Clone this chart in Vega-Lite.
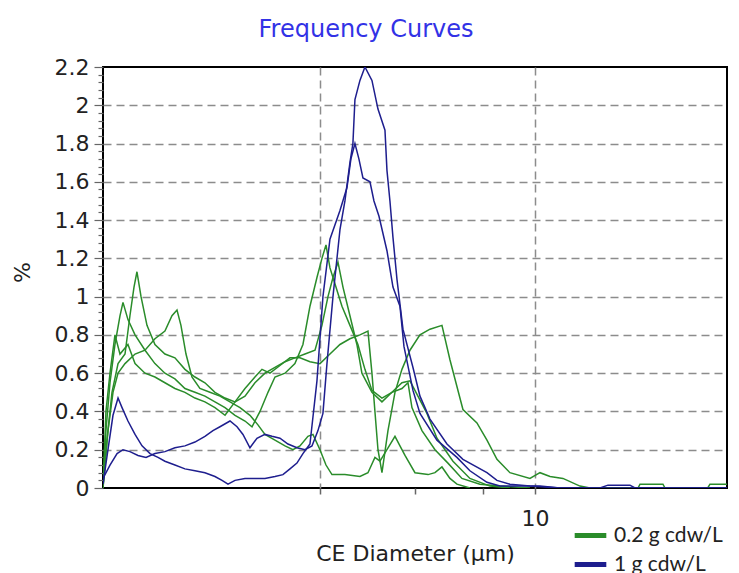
{
  "$schema": "https://vega.github.io/schema/vega-lite/v6.json",
  "width": 624,
  "height": 421,
  "autosize": "none",
  "padding": {"left": 103, "top": 67, "right": 12, "bottom": 85},
  "background": "white",
  "config": {"view": {"stroke": "black", "strokeWidth": 2}, "font": "DejaVu Sans"},
  "title": {"text": "Frequency Curves", "fontSize": 24, "font": "DejaVu Sans", "fontWeight": "normal", "color": "#3232e6", "anchor": "middle", "dx": -49, "frame": "group", "baseline": "alphabetic", "offset": -5},
  "data": {"values": [
    {"run":"G1","conc":"0.2 g cdw/L","diameter":1.585,"pct":0},
    {"run":"G1","conc":"0.2 g cdw/L","diameter":1.605,"pct":0.3},
    {"run":"G1","conc":"0.2 g cdw/L","diameter":1.633,"pct":0.55},
    {"run":"G1","conc":"0.2 g cdw/L","diameter":1.668,"pct":0.75},
    {"run":"G1","conc":"0.2 g cdw/L","diameter":1.704,"pct":0.9},
    {"run":"G1","conc":"0.2 g cdw/L","diameter":1.726,"pct":0.97},
    {"run":"G1","conc":"0.2 g cdw/L","diameter":1.763,"pct":0.88},
    {"run":"G1","conc":"0.2 g cdw/L","diameter":1.817,"pct":0.8},
    {"run":"G1","conc":"0.2 g cdw/L","diameter":1.896,"pct":0.72},
    {"run":"G1","conc":"0.2 g cdw/L","diameter":1.978,"pct":0.65},
    {"run":"G1","conc":"0.2 g cdw/L","diameter":2.064,"pct":0.6},
    {"run":"G1","conc":"0.2 g cdw/L","diameter":2.154,"pct":0.57},
    {"run":"G1","conc":"0.2 g cdw/L","diameter":2.248,"pct":0.52},
    {"run":"G1","conc":"0.2 g cdw/L","diameter":2.346,"pct":0.5},
    {"run":"G1","conc":"0.2 g cdw/L","diameter":2.448,"pct":0.48},
    {"run":"G1","conc":"0.2 g cdw/L","diameter":2.555,"pct":0.45},
    {"run":"G1","conc":"0.2 g cdw/L","diameter":2.667,"pct":0.42},
    {"run":"G1","conc":"0.2 g cdw/L","diameter":2.783,"pct":0.38},
    {"run":"G1","conc":"0.2 g cdw/L","diameter":2.904,"pct":0.35},
    {"run":"G1","conc":"0.2 g cdw/L","diameter":2.992,"pct":0.32},
    {"run":"G1","conc":"0.2 g cdw/L","diameter":3.096,"pct":0.4},
    {"run":"G1","conc":"0.2 g cdw/L","diameter":3.203,"pct":0.5},
    {"run":"G1","conc":"0.2 g cdw/L","diameter":3.3,"pct":0.58},
    {"run":"G1","conc":"0.2 g cdw/L","diameter":3.444,"pct":0.6},
    {"run":"G1","conc":"0.2 g cdw/L","diameter":3.593,"pct":0.65},
    {"run":"G1","conc":"0.2 g cdw/L","diameter":3.718,"pct":0.75},
    {"run":"G1","conc":"0.2 g cdw/L","diameter":3.831,"pct":0.95},
    {"run":"G1","conc":"0.2 g cdw/L","diameter":3.947,"pct":1.1},
    {"run":"G1","conc":"0.2 g cdw/L","diameter":4.032,"pct":1.2},
    {"run":"G1","conc":"0.2 g cdw/L","diameter":4.102,"pct":1.27},
    {"run":"G1","conc":"0.2 g cdw/L","diameter":4.172,"pct":1.15},
    {"run":"G1","conc":"0.2 g cdw/L","diameter":4.28,"pct":1.05},
    {"run":"G1","conc":"0.2 g cdw/L","diameter":4.391,"pct":0.95},
    {"run":"G1","conc":"0.2 g cdw/L","diameter":4.543,"pct":0.85},
    {"run":"G1","conc":"0.2 g cdw/L","diameter":4.7,"pct":0.75},
    {"run":"G1","conc":"0.2 g cdw/L","diameter":4.843,"pct":0.62},
    {"run":"G1","conc":"0.2 g cdw/L","diameter":4.99,"pct":0.51},
    {"run":"G1","conc":"0.2 g cdw/L","diameter":5.208,"pct":0.47},
    {"run":"G1","conc":"0.2 g cdw/L","diameter":5.434,"pct":0.5},
    {"run":"G1","conc":"0.2 g cdw/L","diameter":5.671,"pct":0.52},
    {"run":"G1","conc":"0.2 g cdw/L","diameter":5.819,"pct":0.55},
    {"run":"G1","conc":"0.2 g cdw/L","diameter":5.918,"pct":0.42},
    {"run":"G1","conc":"0.2 g cdw/L","diameter":6.176,"pct":0.3},
    {"run":"G1","conc":"0.2 g cdw/L","diameter":6.529,"pct":0.2},
    {"run":"G1","conc":"0.2 g cdw/L","diameter":6.9,"pct":0.13},
    {"run":"G1","conc":"0.2 g cdw/L","diameter":7.324,"pct":0.05},
    {"run":"G1","conc":"0.2 g cdw/L","diameter":7.908,"pct":0.02},
    {"run":"G1","conc":"0.2 g cdw/L","diameter":8.613,"pct":0.01},
    {"run":"G1","conc":"0.2 g cdw/L","diameter":9.789,"pct":0},
    {"run":"G2","conc":"0.2 g cdw/L","diameter":1.585,"pct":0},
    {"run":"G2","conc":"0.2 g cdw/L","diameter":1.612,"pct":0.25},
    {"run":"G2","conc":"0.2 g cdw/L","diameter":1.647,"pct":0.5},
    {"run":"G2","conc":"0.2 g cdw/L","diameter":1.69,"pct":0.65},
    {"run":"G2","conc":"0.2 g cdw/L","diameter":1.741,"pct":0.7},
    {"run":"G2","conc":"0.2 g cdw/L","diameter":1.778,"pct":0.9},
    {"run":"G2","conc":"0.2 g cdw/L","diameter":1.809,"pct":1.05},
    {"run":"G2","conc":"0.2 g cdw/L","diameter":1.832,"pct":1.13},
    {"run":"G2","conc":"0.2 g cdw/L","diameter":1.864,"pct":1.0},
    {"run":"G2","conc":"0.2 g cdw/L","diameter":1.912,"pct":0.85},
    {"run":"G2","conc":"0.2 g cdw/L","diameter":1.978,"pct":0.75},
    {"run":"G2","conc":"0.2 g cdw/L","diameter":2.064,"pct":0.7},
    {"run":"G2","conc":"0.2 g cdw/L","diameter":2.154,"pct":0.68},
    {"run":"G2","conc":"0.2 g cdw/L","diameter":2.248,"pct":0.62},
    {"run":"G2","conc":"0.2 g cdw/L","diameter":2.346,"pct":0.58},
    {"run":"G2","conc":"0.2 g cdw/L","diameter":2.448,"pct":0.55},
    {"run":"G2","conc":"0.2 g cdw/L","diameter":2.555,"pct":0.5},
    {"run":"G2","conc":"0.2 g cdw/L","diameter":2.667,"pct":0.47},
    {"run":"G2","conc":"0.2 g cdw/L","diameter":2.783,"pct":0.45},
    {"run":"G2","conc":"0.2 g cdw/L","diameter":2.904,"pct":0.48},
    {"run":"G2","conc":"0.2 g cdw/L","diameter":3.03,"pct":0.55},
    {"run":"G2","conc":"0.2 g cdw/L","diameter":3.162,"pct":0.6},
    {"run":"G2","conc":"0.2 g cdw/L","diameter":3.3,"pct":0.63},
    {"run":"G2","conc":"0.2 g cdw/L","diameter":3.444,"pct":0.66},
    {"run":"G2","conc":"0.2 g cdw/L","diameter":3.593,"pct":0.68},
    {"run":"G2","conc":"0.2 g cdw/L","diameter":3.75,"pct":0.7},
    {"run":"G2","conc":"0.2 g cdw/L","diameter":3.914,"pct":0.72},
    {"run":"G2","conc":"0.2 g cdw/L","diameter":4.032,"pct":0.85},
    {"run":"G2","conc":"0.2 g cdw/L","diameter":4.137,"pct":1.0},
    {"run":"G2","conc":"0.2 g cdw/L","diameter":4.226,"pct":1.1},
    {"run":"G2","conc":"0.2 g cdw/L","diameter":4.317,"pct":1.18},
    {"run":"G2","conc":"0.2 g cdw/L","diameter":4.41,"pct":1.05},
    {"run":"G2","conc":"0.2 g cdw/L","diameter":4.543,"pct":0.9},
    {"run":"G2","conc":"0.2 g cdw/L","diameter":4.68,"pct":0.75},
    {"run":"G2","conc":"0.2 g cdw/L","diameter":4.781,"pct":0.6},
    {"run":"G2","conc":"0.2 g cdw/L","diameter":4.99,"pct":0.5},
    {"run":"G2","conc":"0.2 g cdw/L","diameter":5.208,"pct":0.45},
    {"run":"G2","conc":"0.2 g cdw/L","diameter":5.434,"pct":0.5},
    {"run":"G2","conc":"0.2 g cdw/L","diameter":5.671,"pct":0.55},
    {"run":"G2","conc":"0.2 g cdw/L","diameter":5.868,"pct":0.56},
    {"run":"G2","conc":"0.2 g cdw/L","diameter":6.309,"pct":0.39},
    {"run":"G2","conc":"0.2 g cdw/L","diameter":6.584,"pct":0.26},
    {"run":"G2","conc":"0.2 g cdw/L","diameter":7.049,"pct":0.14},
    {"run":"G2","conc":"0.2 g cdw/L","diameter":7.578,"pct":0.05},
    {"run":"G2","conc":"0.2 g cdw/L","diameter":8.254,"pct":0.01},
    {"run":"G2","conc":"0.2 g cdw/L","diameter":8.987,"pct":0},
    {"run":"G3","conc":"0.2 g cdw/L","diameter":1.585,"pct":0},
    {"run":"G3","conc":"0.2 g cdw/L","diameter":1.619,"pct":0.3},
    {"run":"G3","conc":"0.2 g cdw/L","diameter":1.654,"pct":0.5},
    {"run":"G3","conc":"0.2 g cdw/L","diameter":1.69,"pct":0.6},
    {"run":"G3","conc":"0.2 g cdw/L","diameter":1.741,"pct":0.65},
    {"run":"G3","conc":"0.2 g cdw/L","diameter":1.817,"pct":0.7},
    {"run":"G3","conc":"0.2 g cdw/L","diameter":1.896,"pct":0.72},
    {"run":"G3","conc":"0.2 g cdw/L","diameter":1.978,"pct":0.78},
    {"run":"G3","conc":"0.2 g cdw/L","diameter":2.064,"pct":0.82},
    {"run":"G3","conc":"0.2 g cdw/L","diameter":2.127,"pct":0.9},
    {"run":"G3","conc":"0.2 g cdw/L","diameter":2.173,"pct":0.93},
    {"run":"G3","conc":"0.2 g cdw/L","diameter":2.21,"pct":0.85},
    {"run":"G3","conc":"0.2 g cdw/L","diameter":2.258,"pct":0.7},
    {"run":"G3","conc":"0.2 g cdw/L","diameter":2.316,"pct":0.58},
    {"run":"G3","conc":"0.2 g cdw/L","diameter":2.396,"pct":0.52},
    {"run":"G3","conc":"0.2 g cdw/L","diameter":2.501,"pct":0.5},
    {"run":"G3","conc":"0.2 g cdw/L","diameter":2.61,"pct":0.48},
    {"run":"G3","conc":"0.2 g cdw/L","diameter":2.724,"pct":0.45},
    {"run":"G3","conc":"0.2 g cdw/L","diameter":2.843,"pct":0.42},
    {"run":"G3","conc":"0.2 g cdw/L","diameter":2.966,"pct":0.38},
    {"run":"G3","conc":"0.2 g cdw/L","diameter":3.069,"pct":0.33},
    {"run":"G3","conc":"0.2 g cdw/L","diameter":3.162,"pct":0.28},
    {"run":"G3","conc":"0.2 g cdw/L","diameter":3.3,"pct":0.25},
    {"run":"G3","conc":"0.2 g cdw/L","diameter":3.444,"pct":0.22},
    {"run":"G3","conc":"0.2 g cdw/L","diameter":3.563,"pct":0.2},
    {"run":"G3","conc":"0.2 g cdw/L","diameter":3.671,"pct":0.22},
    {"run":"G3","conc":"0.2 g cdw/L","diameter":3.798,"pct":0.27},
    {"run":"G3","conc":"0.2 g cdw/L","diameter":3.88,"pct":0.28},
    {"run":"G3","conc":"0.2 g cdw/L","diameter":3.998,"pct":0.2},
    {"run":"G3","conc":"0.2 g cdw/L","diameter":4.102,"pct":0.12},
    {"run":"G3","conc":"0.2 g cdw/L","diameter":4.208,"pct":0.07},
    {"run":"G3","conc":"0.2 g cdw/L","diameter":4.447,"pct":0.07},
    {"run":"G3","conc":"0.2 g cdw/L","diameter":4.741,"pct":0.06},
    {"run":"G3","conc":"0.2 g cdw/L","diameter":4.906,"pct":0.08},
    {"run":"G3","conc":"0.2 g cdw/L","diameter":5.054,"pct":0.16},
    {"run":"G3","conc":"0.2 g cdw/L","diameter":5.164,"pct":0.14},
    {"run":"G3","conc":"0.2 g cdw/L","diameter":5.32,"pct":0.2},
    {"run":"G3","conc":"0.2 g cdw/L","diameter":5.505,"pct":0.27},
    {"run":"G3","conc":"0.2 g cdw/L","diameter":5.623,"pct":0.22},
    {"run":"G3","conc":"0.2 g cdw/L","diameter":5.745,"pct":0.17},
    {"run":"G3","conc":"0.2 g cdw/L","diameter":5.995,"pct":0.08},
    {"run":"G3","conc":"0.2 g cdw/L","diameter":6.339,"pct":0.07},
    {"run":"G3","conc":"0.2 g cdw/L","diameter":6.529,"pct":0.08},
    {"run":"G3","conc":"0.2 g cdw/L","diameter":6.726,"pct":0.11},
    {"run":"G3","conc":"0.2 g cdw/L","diameter":6.959,"pct":0.05},
    {"run":"G3","conc":"0.2 g cdw/L","diameter":7.17,"pct":0.02},
    {"run":"G3","conc":"0.2 g cdw/L","diameter":7.578,"pct":0},
    {"run":"G4","conc":"0.2 g cdw/L","diameter":1.585,"pct":0},
    {"run":"G4","conc":"0.2 g cdw/L","diameter":1.605,"pct":0.4},
    {"run":"G4","conc":"0.2 g cdw/L","diameter":1.633,"pct":0.6},
    {"run":"G4","conc":"0.2 g cdw/L","diameter":1.668,"pct":0.8},
    {"run":"G4","conc":"0.2 g cdw/L","diameter":1.704,"pct":0.7},
    {"run":"G4","conc":"0.2 g cdw/L","diameter":1.763,"pct":0.75},
    {"run":"G4","conc":"0.2 g cdw/L","diameter":1.817,"pct":0.65},
    {"run":"G4","conc":"0.2 g cdw/L","diameter":1.896,"pct":0.6},
    {"run":"G4","conc":"0.2 g cdw/L","diameter":1.978,"pct":0.58},
    {"run":"G4","conc":"0.2 g cdw/L","diameter":2.064,"pct":0.55},
    {"run":"G4","conc":"0.2 g cdw/L","diameter":2.154,"pct":0.52},
    {"run":"G4","conc":"0.2 g cdw/L","diameter":2.248,"pct":0.5},
    {"run":"G4","conc":"0.2 g cdw/L","diameter":2.346,"pct":0.47},
    {"run":"G4","conc":"0.2 g cdw/L","diameter":2.448,"pct":0.45},
    {"run":"G4","conc":"0.2 g cdw/L","diameter":2.555,"pct":0.42},
    {"run":"G4","conc":"0.2 g cdw/L","diameter":2.667,"pct":0.38},
    {"run":"G4","conc":"0.2 g cdw/L","diameter":2.783,"pct":0.45},
    {"run":"G4","conc":"0.2 g cdw/L","diameter":2.904,"pct":0.52},
    {"run":"G4","conc":"0.2 g cdw/L","diameter":3.03,"pct":0.58},
    {"run":"G4","conc":"0.2 g cdw/L","diameter":3.122,"pct":0.62},
    {"run":"G4","conc":"0.2 g cdw/L","diameter":3.23,"pct":0.6},
    {"run":"G4","conc":"0.2 g cdw/L","diameter":3.371,"pct":0.64},
    {"run":"G4","conc":"0.2 g cdw/L","diameter":3.518,"pct":0.68},
    {"run":"G4","conc":"0.2 g cdw/L","diameter":3.671,"pct":0.68},
    {"run":"G4","conc":"0.2 g cdw/L","diameter":3.831,"pct":0.66},
    {"run":"G4","conc":"0.2 g cdw/L","diameter":3.998,"pct":0.65},
    {"run":"G4","conc":"0.2 g cdw/L","diameter":4.172,"pct":0.7},
    {"run":"G4","conc":"0.2 g cdw/L","diameter":4.354,"pct":0.75},
    {"run":"G4","conc":"0.2 g cdw/L","diameter":4.543,"pct":0.78},
    {"run":"G4","conc":"0.2 g cdw/L","diameter":4.741,"pct":0.8},
    {"run":"G4","conc":"0.2 g cdw/L","diameter":4.906,"pct":0.82},
    {"run":"G4","conc":"0.2 g cdw/L","diameter":4.99,"pct":0.6},
    {"run":"G4","conc":"0.2 g cdw/L","diameter":5.054,"pct":0.4},
    {"run":"G4","conc":"0.2 g cdw/L","diameter":5.12,"pct":0.2},
    {"run":"G4","conc":"0.2 g cdw/L","diameter":5.208,"pct":0.08},
    {"run":"G4","conc":"0.2 g cdw/L","diameter":5.343,"pct":0.3},
    {"run":"G4","conc":"0.2 g cdw/L","diameter":5.505,"pct":0.5},
    {"run":"G4","conc":"0.2 g cdw/L","diameter":5.671,"pct":0.62},
    {"run":"G4","conc":"0.2 g cdw/L","diameter":5.868,"pct":0.72},
    {"run":"G4","conc":"0.2 g cdw/L","diameter":6.124,"pct":0.8},
    {"run":"G4","conc":"0.2 g cdw/L","diameter":6.391,"pct":0.83},
    {"run":"G4","conc":"0.2 g cdw/L","diameter":6.726,"pct":0.85},
    {"run":"G4","conc":"0.2 g cdw/L","diameter":6.959,"pct":0.67},
    {"run":"G4","conc":"0.2 g cdw/L","diameter":7.356,"pct":0.41},
    {"run":"G4","conc":"0.2 g cdw/L","diameter":7.808,"pct":0.34},
    {"run":"G4","conc":"0.2 g cdw/L","diameter":8.149,"pct":0.25},
    {"run":"G4","conc":"0.2 g cdw/L","diameter":8.504,"pct":0.15},
    {"run":"G4","conc":"0.2 g cdw/L","diameter":8.987,"pct":0.08},
    {"run":"G4","conc":"0.2 g cdw/L","diameter":9.789,"pct":0.05},
    {"run":"G4","conc":"0.2 g cdw/L","diameter":10.216,"pct":0.08},
    {"run":"G4","conc":"0.2 g cdw/L","diameter":10.664,"pct":0.06},
    {"run":"G4","conc":"0.2 g cdw/L","diameter":11.267,"pct":0.05},
    {"run":"G4","conc":"0.2 g cdw/L","diameter":12.115,"pct":0.01},
    {"run":"G4","conc":"0.2 g cdw/L","diameter":12.646,"pct":0},
    {"run":"G4","conc":"0.2 g cdw/L","diameter":15.52,"pct":0},
    {"run":"G4","conc":"0.2 g cdw/L","diameter":15.65,"pct":0.02},
    {"run":"G4","conc":"0.2 g cdw/L","diameter":17.26,"pct":0.02},
    {"run":"G4","conc":"0.2 g cdw/L","diameter":17.41,"pct":0},
    {"run":"G4","conc":"0.2 g cdw/L","diameter":20.89,"pct":0},
    {"run":"G4","conc":"0.2 g cdw/L","diameter":21.09,"pct":0.02},
    {"run":"G4","conc":"0.2 g cdw/L","diameter":22.68,"pct":0.02},
    {"run":"B1","conc":"1 g cdw/L","diameter":1.585,"pct":0.02},
    {"run":"B1","conc":"1 g cdw/L","diameter":1.619,"pct":0.2},
    {"run":"B1","conc":"1 g cdw/L","diameter":1.654,"pct":0.38},
    {"run":"B1","conc":"1 g cdw/L","diameter":1.69,"pct":0.47},
    {"run":"B1","conc":"1 g cdw/L","diameter":1.719,"pct":0.42},
    {"run":"B1","conc":"1 g cdw/L","diameter":1.763,"pct":0.35},
    {"run":"B1","conc":"1 g cdw/L","diameter":1.817,"pct":0.28},
    {"run":"B1","conc":"1 g cdw/L","diameter":1.872,"pct":0.22},
    {"run":"B1","conc":"1 g cdw/L","diameter":1.937,"pct":0.18},
    {"run":"B1","conc":"1 g cdw/L","diameter":2.004,"pct":0.16},
    {"run":"B1","conc":"1 g cdw/L","diameter":2.064,"pct":0.14},
    {"run":"B1","conc":"1 g cdw/L","diameter":2.154,"pct":0.12},
    {"run":"B1","conc":"1 g cdw/L","diameter":2.248,"pct":0.1},
    {"run":"B1","conc":"1 g cdw/L","diameter":2.346,"pct":0.09},
    {"run":"B1","conc":"1 g cdw/L","diameter":2.448,"pct":0.08},
    {"run":"B1","conc":"1 g cdw/L","diameter":2.555,"pct":0.06},
    {"run":"B1","conc":"1 g cdw/L","diameter":2.633,"pct":0.04},
    {"run":"B1","conc":"1 g cdw/L","diameter":2.701,"pct":0.02},
    {"run":"B1","conc":"1 g cdw/L","diameter":2.783,"pct":0.04},
    {"run":"B1","conc":"1 g cdw/L","diameter":2.904,"pct":0.05},
    {"run":"B1","conc":"1 g cdw/L","diameter":3.03,"pct":0.05},
    {"run":"B1","conc":"1 g cdw/L","diameter":3.162,"pct":0.05},
    {"run":"B1","conc":"1 g cdw/L","diameter":3.3,"pct":0.06},
    {"run":"B1","conc":"1 g cdw/L","diameter":3.414,"pct":0.07},
    {"run":"B1","conc":"1 g cdw/L","diameter":3.518,"pct":0.1},
    {"run":"B1","conc":"1 g cdw/L","diameter":3.624,"pct":0.13},
    {"run":"B1","conc":"1 g cdw/L","diameter":3.718,"pct":0.18},
    {"run":"B1","conc":"1 g cdw/L","diameter":3.831,"pct":0.23},
    {"run":"B1","conc":"1 g cdw/L","diameter":3.947,"pct":0.56},
    {"run":"B1","conc":"1 g cdw/L","diameter":4.049,"pct":1.0},
    {"run":"B1","conc":"1 g cdw/L","diameter":4.172,"pct":1.3},
    {"run":"B1","conc":"1 g cdw/L","diameter":4.354,"pct":1.45},
    {"run":"B1","conc":"1 g cdw/L","diameter":4.486,"pct":1.57},
    {"run":"B1","conc":"1 g cdw/L","diameter":4.562,"pct":1.72},
    {"run":"B1","conc":"1 g cdw/L","diameter":4.641,"pct":1.8},
    {"run":"B1","conc":"1 g cdw/L","diameter":4.72,"pct":1.72},
    {"run":"B1","conc":"1 g cdw/L","diameter":4.802,"pct":1.62},
    {"run":"B1","conc":"1 g cdw/L","diameter":4.948,"pct":1.6},
    {"run":"B1","conc":"1 g cdw/L","diameter":5.033,"pct":1.5},
    {"run":"B1","conc":"1 g cdw/L","diameter":5.142,"pct":1.42},
    {"run":"B1","conc":"1 g cdw/L","diameter":5.32,"pct":1.24},
    {"run":"B1","conc":"1 g cdw/L","diameter":5.458,"pct":1.05},
    {"run":"B1","conc":"1 g cdw/L","diameter":5.623,"pct":0.95},
    {"run":"B1","conc":"1 g cdw/L","diameter":5.72,"pct":0.74},
    {"run":"B1","conc":"1 g cdw/L","diameter":5.944,"pct":0.51},
    {"run":"B1","conc":"1 g cdw/L","diameter":6.124,"pct":0.39},
    {"run":"B1","conc":"1 g cdw/L","diameter":6.584,"pct":0.25},
    {"run":"B1","conc":"1 g cdw/L","diameter":7.17,"pct":0.16},
    {"run":"B1","conc":"1 g cdw/L","diameter":7.578,"pct":0.09},
    {"run":"B1","conc":"1 g cdw/L","diameter":8.149,"pct":0.03},
    {"run":"B1","conc":"1 g cdw/L","diameter":8.613,"pct":0.01},
    {"run":"B1","conc":"1 g cdw/L","diameter":9.381,"pct":0.01},
    {"run":"B1","conc":"1 g cdw/L","diameter":10.216,"pct":0.01},
    {"run":"B1","conc":"1 g cdw/L","diameter":11.124,"pct":0},
    {"run":"B1","conc":"1 g cdw/L","diameter":22.68,"pct":0},
    {"run":"B2","conc":"1 g cdw/L","diameter":1.585,"pct":0.05},
    {"run":"B2","conc":"1 g cdw/L","diameter":1.633,"pct":0.12},
    {"run":"B2","conc":"1 g cdw/L","diameter":1.683,"pct":0.18},
    {"run":"B2","conc":"1 g cdw/L","diameter":1.726,"pct":0.2},
    {"run":"B2","conc":"1 g cdw/L","diameter":1.778,"pct":0.19},
    {"run":"B2","conc":"1 g cdw/L","diameter":1.84,"pct":0.17},
    {"run":"B2","conc":"1 g cdw/L","diameter":1.904,"pct":0.16},
    {"run":"B2","conc":"1 g cdw/L","diameter":1.978,"pct":0.18},
    {"run":"B2","conc":"1 g cdw/L","diameter":2.064,"pct":0.19},
    {"run":"B2","conc":"1 g cdw/L","diameter":2.154,"pct":0.21},
    {"run":"B2","conc":"1 g cdw/L","diameter":2.248,"pct":0.22},
    {"run":"B2","conc":"1 g cdw/L","diameter":2.346,"pct":0.24},
    {"run":"B2","conc":"1 g cdw/L","diameter":2.448,"pct":0.27},
    {"run":"B2","conc":"1 g cdw/L","diameter":2.533,"pct":0.3},
    {"run":"B2","conc":"1 g cdw/L","diameter":2.61,"pct":0.32},
    {"run":"B2","conc":"1 g cdw/L","diameter":2.724,"pct":0.35},
    {"run":"B2","conc":"1 g cdw/L","diameter":2.807,"pct":0.32},
    {"run":"B2","conc":"1 g cdw/L","diameter":2.879,"pct":0.28},
    {"run":"B2","conc":"1 g cdw/L","diameter":2.966,"pct":0.21},
    {"run":"B2","conc":"1 g cdw/L","diameter":3.056,"pct":0.26},
    {"run":"B2","conc":"1 g cdw/L","diameter":3.162,"pct":0.28},
    {"run":"B2","conc":"1 g cdw/L","diameter":3.258,"pct":0.27},
    {"run":"B2","conc":"1 g cdw/L","diameter":3.371,"pct":0.26},
    {"run":"B2","conc":"1 g cdw/L","diameter":3.488,"pct":0.23},
    {"run":"B2","conc":"1 g cdw/L","diameter":3.624,"pct":0.21},
    {"run":"B2","conc":"1 g cdw/L","diameter":3.75,"pct":0.2},
    {"run":"B2","conc":"1 g cdw/L","diameter":3.864,"pct":0.22},
    {"run":"B2","conc":"1 g cdw/L","diameter":3.964,"pct":0.3},
    {"run":"B2","conc":"1 g cdw/L","diameter":4.049,"pct":0.39},
    {"run":"B2","conc":"1 g cdw/L","diameter":4.119,"pct":0.65},
    {"run":"B2","conc":"1 g cdw/L","diameter":4.226,"pct":1.0},
    {"run":"B2","conc":"1 g cdw/L","diameter":4.354,"pct":1.35},
    {"run":"B2","conc":"1 g cdw/L","diameter":4.447,"pct":1.5},
    {"run":"B2","conc":"1 g cdw/L","diameter":4.543,"pct":1.7},
    {"run":"B2","conc":"1 g cdw/L","diameter":4.601,"pct":1.8},
    {"run":"B2","conc":"1 g cdw/L","diameter":4.641,"pct":2.03},
    {"run":"B2","conc":"1 g cdw/L","diameter":4.741,"pct":2.13},
    {"run":"B2","conc":"1 g cdw/L","diameter":4.843,"pct":2.2},
    {"run":"B2","conc":"1 g cdw/L","diameter":4.99,"pct":2.13},
    {"run":"B2","conc":"1 g cdw/L","diameter":5.12,"pct":1.98},
    {"run":"B2","conc":"1 g cdw/L","diameter":5.275,"pct":1.87},
    {"run":"B2","conc":"1 g cdw/L","diameter":5.32,"pct":1.66},
    {"run":"B2","conc":"1 g cdw/L","diameter":5.388,"pct":1.5},
    {"run":"B2","conc":"1 g cdw/L","diameter":5.458,"pct":1.31},
    {"run":"B2","conc":"1 g cdw/L","diameter":5.552,"pct":1.09},
    {"run":"B2","conc":"1 g cdw/L","diameter":5.696,"pct":0.83},
    {"run":"B2","conc":"1 g cdw/L","diameter":5.944,"pct":0.63},
    {"run":"B2","conc":"1 g cdw/L","diameter":6.124,"pct":0.48},
    {"run":"B2","conc":"1 g cdw/L","diameter":6.391,"pct":0.36},
    {"run":"B2","conc":"1 g cdw/L","diameter":6.871,"pct":0.23},
    {"run":"B2","conc":"1 g cdw/L","diameter":7.356,"pct":0.15},
    {"run":"B2","conc":"1 g cdw/L","diameter":8.149,"pct":0.08},
    {"run":"B2","conc":"1 g cdw/L","diameter":8.504,"pct":0.04},
    {"run":"B2","conc":"1 g cdw/L","diameter":8.987,"pct":0.02},
    {"run":"B2","conc":"1 g cdw/L","diameter":9.789,"pct":0.01},
    {"run":"B2","conc":"1 g cdw/L","diameter":11.124,"pct":0},
    {"run":"B2","conc":"1 g cdw/L","diameter":13.194,"pct":0},
    {"run":"B2","conc":"1 g cdw/L","diameter":13.65,"pct":0.015},
    {"run":"B2","conc":"1 g cdw/L","diameter":14.995,"pct":0.015},
    {"run":"B2","conc":"1 g cdw/L","diameter":15.32,"pct":0},
    {"run":"B2","conc":"1 g cdw/L","diameter":22.68,"pct":0}
  ]},
  "mark": {"type": "line", "strokeWidth": 1.5, "clip": true},
  "encoding": {
    "x": {
      "field": "diameter", "type": "quantitative",
      "scale": {"type": "log", "domain": [1.585, 22.68], "nice": false},
      "axis": {
        "title": "CE Diameter (µm)",
        "values": [4, 6, 8, 10],
        "labelExpr": "datum.value == 10 ? '10' : ''",
        "grid": true, "gridDash": [8, 5], "gridColor": "#8c8c8c", "gridWidth": 1.5,
        "gridOpacity": {"condition": {"test": "datum.value == 4 || datum.value == 10", "value": 1}, "value": 0},
        "domain": false, "tickSize": 6, "tickColor": "#666", "tickWidth": 1.5,
        "labelFont": "DejaVu Sans", "labelFontSize": 22, "labelColor": "#222", "labelPadding": 14,
        "labelOverlap": false, "labelFlush": false,
        "titleFont": "DejaVu Sans", "titleFontSize": 22, "titleFontWeight": "normal", "titleColor": "#222", "titlePadding": 14
      }
    },
    "y": {
      "field": "pct", "type": "quantitative",
      "scale": {"domain": [0, 2.2], "nice": false},
      "axis": {
        "title": "%",
        "values": [0,0.04,0.08,0.12,0.16,0.2,0.24,0.28,0.32,0.36,0.4,0.44,0.48,0.52,0.56,0.6,0.64,0.68,0.72,0.76,0.8,0.84,0.88,0.92,0.96,1,1.04,1.08,1.12,1.16,1.2,1.24,1.28,1.32,1.36,1.4,1.44,1.48,1.52,1.56,1.6,1.64,1.68,1.72,1.76,1.8,1.84,1.88,1.92,1.96,2,2.04,2.08,2.12,2.16,2.2],
        "labelExpr": "abs(datum.value*5 - round(datum.value*5)) < 0.001 ? format(datum.value, '~g') : ''",
        "tickSize": {"condition": {"test": "abs(datum.value*5 - round(datum.value*5)) < 0.001", "value": 9}, "value": 5},
        "grid": true, "gridDash": [8, 5], "gridColor": "#8c8c8c", "gridWidth": 1.5,
        "gridOpacity": {"condition": {"test": "abs(datum.value*5 - round(datum.value*5)) < 0.001 && datum.value > 0.1 && datum.value < 2.1", "value": 1}, "value": 0},
        "domain": false, "tickColor": "#666", "tickWidth": 1.2,
        "labelFont": "DejaVu Sans", "labelFontSize": 22, "labelColor": "#222", "labelPadding": 5,
        "labelOverlap": false, "labelFlush": false,
        "titleFont": "DejaVu Sans", "titleFontSize": 22, "titleFontWeight": "normal", "titleColor": "#222",
        "titleX": -81, "titleY": 205, "titleAngle": 270, "titleAlign": "center", "titleBaseline": "middle"
      }
    },
    "color": {
      "field": "conc", "type": "nominal",
      "scale": {"domain": ["0.2 g cdw/L", "1 g cdw/L"], "range": ["#2a8c2a", "#1e1e8e"]},
      "legend": {
        "title": null, "orient": "none", "legendX": 469, "legendY": 450,
        "symbolType": "stroke", "symbolSize": 1000, "symbolStrokeWidth": 5,
        "labelFont": "Lato", "labelFontSize": 21, "labelColor": "#222", "rowPadding": 0, "labelOffset": 5, "padding": 0
      }
    },
    "detail": {"field": "run", "type": "nominal"}
  }
}
